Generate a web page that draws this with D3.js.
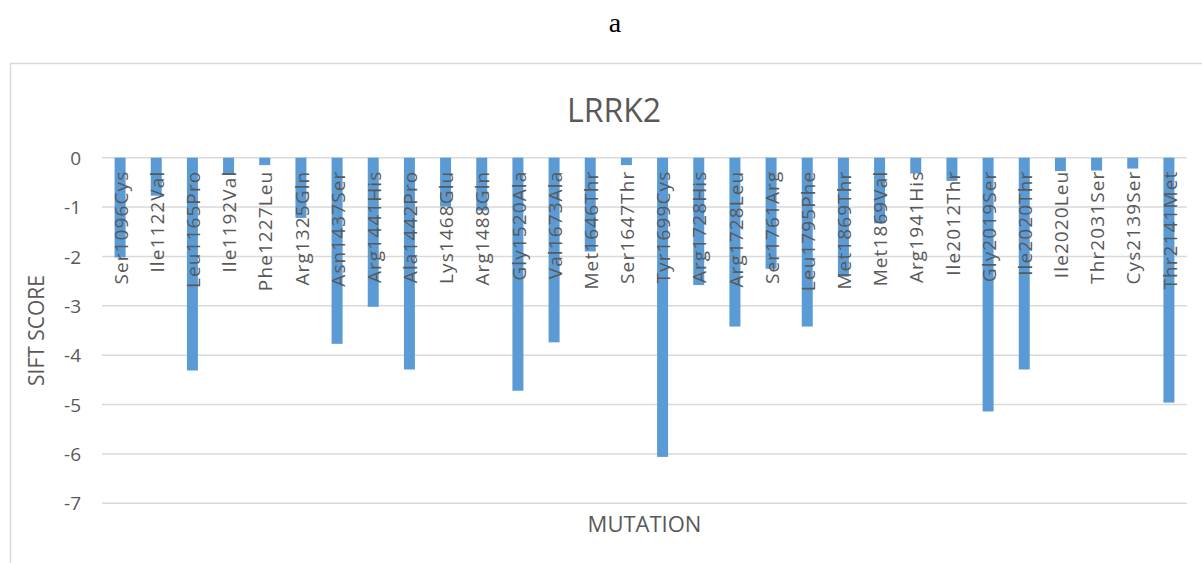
<!DOCTYPE html>
<html>
<head>
<meta charset="utf-8">
<script src="https://cdn.jsdelivr.net/npm/d3@7"></script>
<style>
  html, body { margin: 0; padding: 0; background: #fff; }
  svg { display: block; }
</style>
</head>
<body>
<svg id="chart" width="1202" height="563"></svg>
<script>
const categories = ["Ser1096Cys","Ile1122Val","Leu1165Pro","Ile1192Val","Phe1227Leu","Arg1325Gln","Asn1437Ser","Arg1441His","Ala1442Pro","Lys1468Glu","Arg1488Gln","Gly1520Ala","Val1673Ala","Met1646Thr","Ser1647Thr","Tyr1699Cys","Arg1728His","Arg1728Leu","Ser1761Arg","Leu1795Phe","Met1869Thr","Met1869Val","Arg1941His","Ile2012Thr","Gly2019Ser","Ile2020Thr","Ile2020Leu","Thr2031Ser","Cys2139Ser","Thr2141Met"];
const siftScores = [-2.02,-0.77,-4.31,-0.35,-0.15,-1.22,-3.77,-3.02,-4.29,-0.99,-1.07,-4.72,-3.74,-1.90,-0.15,-6.06,-2.58,-3.42,-2.25,-3.42,-2.41,-1.33,-0.32,-0.47,-5.14,-4.29,-0.27,-0.26,-0.22,-4.96];
const yTicks = [0,-1,-2,-3,-4,-5,-6,-7];
const chartTitle = "LRRK2";
const panelLabel = "a";
const yTitle = "SIFT SCORE";
const xTitle = "MUTATION";

const svg = d3.select("#chart");
const textColor = "#595959";
const font = "'Open Sans', sans-serif";

const plot = {left: 102, right: 1187, top: 157.7, bottom: 503.3};

// chart border
svg.append("rect")
  .attr("x", 10.5).attr("y", 63.5)
  .attr("width", 1220).attr("height", 540)
  .attr("fill", "none").attr("stroke", "#d9d9d9").attr("stroke-width", 1.5);

// panel label
svg.append("text")
  .attr("x", 615).attr("y", 32)
  .attr("text-anchor", "middle")
  .attr("font-family", "'Liberation Serif', 'Times New Roman', serif")
  .attr("font-size", 28).attr("fill", "#000")
  .text(panelLabel);

const y = d3.scaleLinear().domain([-7, 0]).range([plot.bottom, plot.top]);
const x = d3.scaleBand().domain(categories).range([plot.left, plot.right]).padding(0);
const barW = x.bandwidth() * 0.304;

// gridlines
svg.append("g").selectAll("line").data(yTicks).join("line")
  .attr("x1", plot.left).attr("x2", plot.right)
  .attr("y1", d => y(d)).attr("y2", d => y(d))
  .attr("stroke", "#d9d9d9").attr("stroke-width", 1.5);

// y axis tick labels (hyphen-minus as in the original)
const yAxis = d3.axisLeft(y).tickValues(yTicks).tickSize(0).tickPadding(0)
  .tickFormat(d => (d < 0 ? "-" : "") + Math.abs(d));
const yg = svg.append("g").attr("transform", `translate(${plot.left - 21},0)`).call(yAxis);
yg.select(".domain").remove();
yg.selectAll("text")
  .attr("font-family", font).attr("font-size", 19).attr("fill", textColor)
  .attr("dy", "0.35em");

// bars
svg.append("g").selectAll("rect").data(siftScores).join("rect")
  .attr("x", (d, i) => x(categories[i]) + x.bandwidth() / 2 - barW / 2)
  .attr("y", y(0))
  .attr("width", barW)
  .attr("height", d => y(d) - y(0))
  .attr("fill", "#5b9bd5");

// category labels (rotated, near zero line)
svg.append("g").selectAll("text").data(categories).join("text")
  .attr("transform", d => `translate(${x(d) + x.bandwidth() / 2 + 1},${y(0) + 13}) rotate(-90)`)
  .attr("text-anchor", "end")
  .attr("dy", "0.35em")
  .attr("font-family", font).attr("font-size", 19)
  .attr("letter-spacing", 1.1)
  .attr("fill", textColor)
  .text(d => d);

// chart title
svg.append("text")
  .attr("x", 614).attr("y", 122)
  .attr("text-anchor", "middle")
  .attr("font-family", font).attr("font-size", 32).attr("fill", textColor)
  .text(chartTitle);

// axis titles
svg.append("text")
  .attr("transform", `translate(44,${(plot.top + plot.bottom) / 2}) rotate(-90)`)
  .attr("text-anchor", "middle")
  .attr("font-family", font).attr("font-size", 21).attr("fill", textColor)
  .text(yTitle);

svg.append("text")
  .attr("x", (plot.left + plot.right) / 2).attr("y", 532)
  .attr("text-anchor", "middle")
  .attr("font-family", font).attr("font-size", 22).attr("fill", textColor)
  .text(xTitle);
</script>
</body>
</html>
